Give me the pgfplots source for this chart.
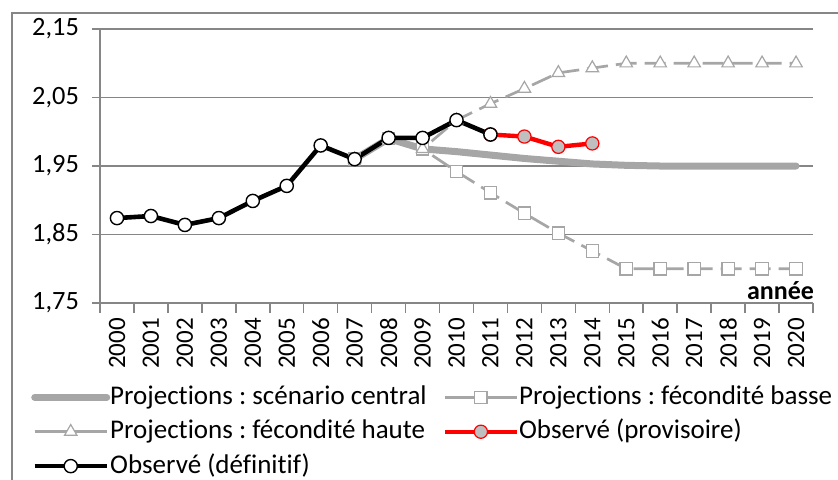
\documentclass[border=0pt]{standalone}
\usepackage{fontspec}
\setmainfont{Carlito}[Ligatures=NoCommon]
\usepackage{pgfplots}
\pgfplotsset{compat=1.18}
\definecolor{gridgray}{HTML}{868686}
\definecolor{projgray}{HTML}{A6A6A6}
\definecolor{provfill}{HTML}{BFBFBF}
\frenchspacing

\pgfplotstableread{
annee val
2007 1.960
2008 1.990
2009 1.975
2010 1.971
2011 1.966
2012 1.961
2013 1.957
2014 1.953
2015 1.951
2016 1.950
2017 1.950
2018 1.950
2019 1.950
2020 1.950
}\central
\pgfplotstableread{
annee val
2007 1.960
2008 1.990
2009 1.975
2010 1.942
2011 1.911
2012 1.881
2013 1.852
2014 1.826
2015 1.800
2016 1.800
2017 1.800
2018 1.800
2019 1.800
2020 1.800
}\basse
\pgfplotstableread{
annee val
2007 1.960
2008 1.990
2009 1.975
2010 2.017
2011 2.041
2012 2.063
2013 2.086
2014 2.093
2015 2.100
2016 2.100
2017 2.100
2018 2.100
2019 2.100
2020 2.100
}\haute
\pgfplotstableread{
annee val
2011 1.996
2012 1.993
2013 1.978
2014 1.983
}\provisoire
\pgfplotstableread{
annee val
2000 1.874
2001 1.877
2002 1.864
2003 1.874
2004 1.899
2005 1.921
2006 1.980
2007 1.960
2008 1.991
2009 1.991
2010 2.017
2011 1.996
}\definitif

\begin{document}
\begin{tikzpicture}
\useasboundingbox (-50pt,-88pt) rectangle (369pt,151.5pt);
\begin{axis}[
    scale only axis,
    width=356.5pt, height=137pt,
    xmin=1999.5, xmax=2020.5,
    ymin=1.75, ymax=2.15,
    ytick={1.75,1.85,1.95,2.05,2.15},
    xtick={2000,2001,...,2020},
    minor xtick={1999.5,2000.5,...,2020.5},
    axis x line=bottom, axis y line=left,
    axis line style={-, gridgray, line width=0.75pt},
    tick align=outside,
    major tick length=4pt, minor tick length=5pt,
    tick style={gridgray, line width=0.75pt},
    major x tick style={draw=none},
    ymajorgrids=true,
    grid style={gridgray, line width=0.75pt},
    yticklabel style={font=\fontsize{13.2}{15}\selectfont, xshift=-3pt,
        /pgf/number format/.cd, fixed, fixed zerofill, precision=2, use comma, assume math mode=true},
    xticklabel style={font=\fontsize{12.5}{14}\selectfont, rotate=90, anchor=east,
        /pgf/number format/.cd, 1000 sep={}, assume math mode=true},
    clip=false,
    legend image code/.code={\draw[mark repeat=2,mark phase=2,#1,solid] plot coordinates {(0pt,0pt) (18pt,0pt) (36pt,0pt)};},
    legend style={at={(axis description cs:-0.097,-0.288)}, anchor=north west,
        draw=none, fill=none, legend columns=2, inner sep=0pt,
        font=\fontsize{13.5}{15}\selectfont, row sep=2.2pt,
        nodes={inner ysep=1pt, inner xsep=0.5pt, text height=10pt, text depth=3pt},
        /tikz/every odd column/.append style={column sep=-0.5pt},
        /tikz/every even column/.append style={column sep=7.5pt}},
    legend cell align=left,
]
\addplot[projgray, line width=3.5pt, line cap=round, line join=round] table[x=annee,y=val] {\central};
\addplot[projgray, line width=1.35pt, dash pattern=on 10.5pt off 4pt, mark=square*, mark size=3.1pt,
    mark options={solid, fill=white, draw=projgray, line width=0.6pt}] table[x=annee,y=val] {\basse};
\addplot[projgray, line width=1.35pt, dash pattern=on 10.5pt off 4pt, mark=triangle*, mark size=3.6pt,
    mark options={solid, fill=white, draw=projgray, line width=0.6pt}] table[x=annee,y=val] {\haute};
\addplot[red, line width=2.2pt, line join=round, mark=*, mark size=3.3pt,
    mark options={fill=provfill, draw=red, line width=0.6pt}] table[x=annee,y=val] {\provisoire};
\addplot[black, line width=2.3pt, line join=round, mark=*, mark size=3.3pt,
    mark options={fill=white, draw=black, line width=0.7pt}] table[x=annee,y=val] {\definitif};
\legend{Projections : scénario central, Projections : fécondité basse,
    Projections : fécondité haute, Observé (provisoire), Observé (définitif)}
\node[anchor=base east, font=\bfseries\fontsize{13}{15}\selectfont] at ([xshift=4pt,yshift=2pt]rel axis cs:1,0) {année};
\end{axis}
\draw[gridgray, line width=0.75pt] (-44pt,-100pt) -- (-44pt,145pt) -- (400pt,145pt);
\end{tikzpicture}
\end{document}
